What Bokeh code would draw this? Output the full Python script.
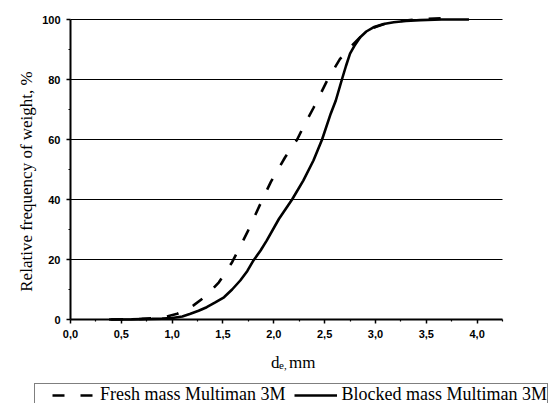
from math import pi
from bokeh.plotting import figure
from bokeh.models import FixedTicker, Legend, LegendItem, Label, Range1d
from bokeh.embed import file_html
from bokeh.resources import INLINE

# ---- data ----
x_fresh = [0.40, 0.70, 0.90, 1.05, 1.13, 1.21, 1.30, 1.38, 1.46, 1.59, 1.74, 1.87,
           1.97, 2.11, 2.23, 2.31, 2.39, 2.46, 2.53, 2.65, 2.75, 2.85, 2.92, 3.00,
           3.10, 3.20, 3.45, 3.75]
y_fresh = [0.0, 0.2, 0.6, 1.9, 3.1, 4.7, 7.0, 9.5, 12.4, 19.1, 29.1, 38.7,
           45.8, 54.0, 60.0, 65.5, 70.5, 75.2, 80.0, 86.8, 90.7, 94.1, 96.0, 97.5,
           98.6, 99.3, 100.2, 100.5]

x_blocked = [0.38, 0.60, 0.80, 0.90, 1.00, 1.10, 1.18, 1.26, 1.34, 1.42, 1.51, 1.59,
             1.67, 1.74, 1.80, 1.87, 1.93, 2.05, 2.18, 2.29, 2.39, 2.475, 2.56, 2.61,
             2.67, 2.71, 2.75, 2.80, 2.85, 2.91, 2.98, 3.08, 3.18, 3.30, 3.44, 3.65, 3.92]
y_blocked = [0.0, 0.05, 0.2, 0.3, 0.5, 1.0, 1.9, 2.9, 4.1, 5.6, 7.4, 10.0,
             13.0, 16.2, 19.7, 23.0, 26.3, 33.5, 40.0, 46.3, 53.0, 60.0, 68.6, 73.0,
             80.0, 84.5, 88.6, 91.6, 94.1, 96.0, 97.4, 98.5, 99.1, 99.5, 99.8, 100.0, 100.0]

x_ticks = [0.0, 0.5, 1.0, 1.5, 2.0, 2.5, 3.0, 3.5, 4.0]
x_tick_labels = ["0,0", "0,5", "1,0", "1,5", "2,0", "2,5", "3,0", "3,5", "4,0"]
x_minor = [0.25, 0.75, 1.25, 1.75, 2.25, 2.75, 3.25, 3.75, 4.25]
y_ticks = [0, 20, 40, 60, 80, 100]
y_minor = [10, 30, 50, 70, 90]
x_axis_span = (0.0, 4.25)
y_axis_span = (0.0, 100.0)

label_fresh = "Fresh mass Multiman 3M"
label_blocked = "Blocked mass Multiman 3M"
y_label = "Relative frequency of weight, %"

# ---- layout geometry (pixels) ----
W, H = 554, 403
X0_PX, X_SCALE = 70.0, 101.65   # px of x=0, px per unit
Y0_PX, Y_SCALE = 319.0, 3.0     # px of y=0, px per unit

def dx(px):
    return (px - X0_PX) / X_SCALE

def dy(py):
    return (Y0_PX - py) / Y_SCALE

p = figure(width=W, height=H, output_backend="svg", toolbar_location=None,
           x_range=Range1d(dx(0), dx(W)), y_range=Range1d(dy(H), dy(0)),
           min_border=0)
p.outline_line_color = None
p.background_fill_color = "white"
p.border_fill_color = "white"
p.xgrid.visible = False
p.ygrid.visible = False

# horizontal grid lines across the axis span
gy = [t for t in y_ticks if t > 0]
p.segment(x0=[x_axis_span[0]] * len(gy), x1=[x_axis_span[1]] * len(gy),
          y0=gy, y1=gy, line_color="black", line_width=1)

r_fresh = p.line(x_fresh, y_fresh, line_color="black", line_width=2.6,
                 line_dash="12 16")
r_blocked = p.line(x_blocked, y_blocked, line_color="black", line_width=2.6)

for ax in (p.xaxis[0], p.yaxis[0]):
    ax.fixed_location = 0
    ax.axis_line_width = 2
    ax.axis_line_color = "black"
    ax.major_tick_in = 0
    ax.major_tick_out = 4
    ax.minor_tick_in = 0
    ax.minor_tick_out = 2
    ax.major_tick_line_color = "black"
    ax.minor_tick_line_color = "black"
    ax.major_tick_line_width = 1.5
    ax.minor_tick_line_width = 1.2
    ax.major_label_text_font = "Liberation Sans"
    ax.major_label_text_font_size = "11px"
    ax.major_label_text_font_style = "bold"
    ax.major_label_text_color = "black"

p.xaxis.ticker = FixedTicker(ticks=x_ticks, minor_ticks=x_minor)
p.xaxis.bounds = x_axis_span
p.xaxis.major_label_overrides = {t: s for t, s in zip(x_ticks, x_tick_labels)}
p.xaxis.major_label_standoff = 6
p.yaxis.ticker = FixedTicker(ticks=y_ticks, minor_ticks=y_minor)
p.yaxis.bounds = y_axis_span
p.yaxis.major_label_standoff = 6

lab_kw = dict(text_font="Liberation Serif", text_color="black", text_baseline="alphabetic")
# y axis label
p.add_layout(Label(x=dx(26), y=dy(181), text=y_label, angle=pi / 2,
                   text_align="center", text_font_size="17px", **lab_kw))
# x axis label with subscript
p.add_layout(Label(x=dx(270.5), y=dy(361.7), text="d", text_font_size="17px", **lab_kw))
p.add_layout(Label(x=dx(278.5), y=dy(364.7), text="e,", text_font_size="11px", **lab_kw))
p.add_layout(Label(x=dx(288.5), y=dy(361.7), text="mm", text_font_size="17px", **lab_kw))

legend = Legend(items=[LegendItem(label=label_fresh, renderers=[r_fresh]),
                       LegendItem(label=label_blocked, renderers=[r_blocked])],
                orientation="horizontal", location=(34, -3),
                title=" ", title_location="left", title_text_font_size="10px",
                title_standoff=6,
                padding=0, margin=0, spacing=8, label_standoff=5,
                glyph_width=43, glyph_height=18, label_height=18,
                label_text_font="Liberation Serif", label_text_font_size="18px",
                label_text_color="black",
                border_line_color="black", border_line_width=1,
                background_fill_alpha=0)
p.add_layout(legend, "center")

open("out.html", "w").write(file_html(p, INLINE))
